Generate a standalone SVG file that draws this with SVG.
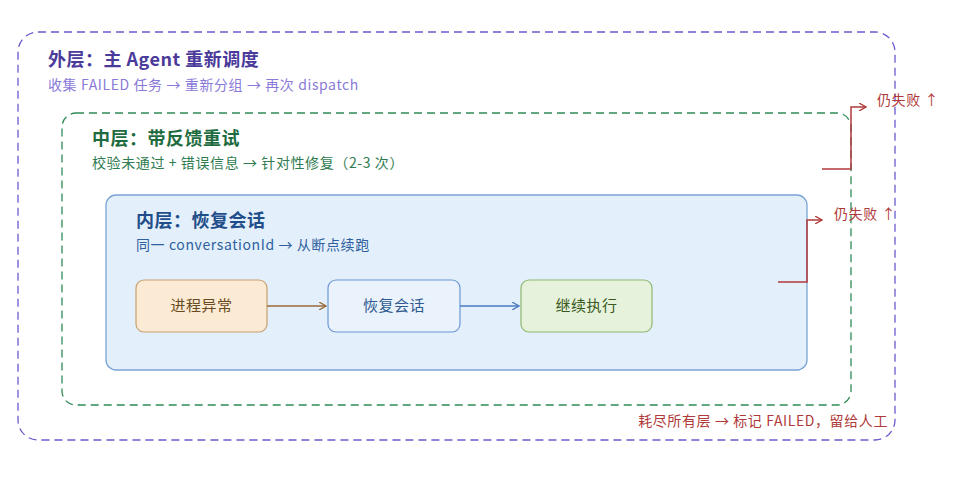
<svg xmlns="http://www.w3.org/2000/svg" width="960" height="481" viewBox="0 0 960 481">
<style>
text{font-family:"Noto Sans CJK SC","Noto Sans",sans-serif}
.t{font-size:18px;font-weight:bold;letter-spacing:0.5px}
.s{font-size:14px;letter-spacing:0.6px}
.n{font-size:15px;text-anchor:middle;letter-spacing:0.5px}
.r{fill:#b03a3a;font-size:14px;letter-spacing:0.6px}
.rl{fill:none;stroke:#b03a3a;stroke-width:1.5}
</style>
<defs>
<marker id="ar" markerWidth="8" markerHeight="8" refX="7" refY="4" orient="auto" markerUnits="userSpaceOnUse"><path d="M0,0 L7,4 L0,8" fill="none" stroke="#b03a3a" stroke-width="1.3"/></marker>
<marker id="ab" markerWidth="8" markerHeight="8" refX="7" refY="4" orient="auto" markerUnits="userSpaceOnUse"><path d="M0,0 L7,4 L0,8" fill="none" stroke="#9a6a3a" stroke-width="1.3"/></marker>
<marker id="abl" markerWidth="8" markerHeight="8" refX="7" refY="4" orient="auto" markerUnits="userSpaceOnUse"><path d="M0,0 L7,4 L0,8" fill="none" stroke="#4a7ac0" stroke-width="1.3"/></marker>
</defs>
<rect width="960" height="481" fill="#fff"/>
<g id="outer">
<rect x="18" y="32" width="877" height="408" rx="20" fill="none" stroke="#6a5acd" stroke-width="1.3" stroke-dasharray="8,5"/>
<text x="48" y="66" class="t" fill="#4a3a9a">外层：主 Agent 重新调度</text>
<text x="48" y="90" class="s" fill="#8a7ad8">收集 FAILED 任务 → 重新分组 → 再次 dispatch</text>
<text x="888" y="426" class="r" text-anchor="end">耗尽所有层 → 标记 FAILED，留给人工</text>
</g>
<g id="middle">
<rect x="62" y="113" width="789" height="292" rx="14" fill="none" stroke="#2e8b57" stroke-width="1.3" stroke-dasharray="8,5"/>
<text x="92" y="145" class="t" fill="#1e6b40">中层：带反馈重试</text>
<text x="92" y="168" class="s" fill="#2e7b50">校验未通过 + 错误信息 → 针对性修复（2-3 次）</text>
</g>
<g id="inner">
<rect x="106" y="195" width="701" height="175" rx="10" fill="#e3effa" stroke="#7aa3d6" stroke-width="1.3"/>
<text x="136" y="227" class="t" fill="#1f4e8a">内层：恢复会话</text>
<text x="136" y="250" class="s" fill="#2f5fa0">同一 conversationId → 从断点续跑</text>
</g>
<g id="n1"><rect x="136" y="280" width="131" height="52" rx="8" fill="#fbebd4" stroke="#c9a070" stroke-width="1.2"/><text x="201.5" y="311" class="n" fill="#6a4a20">进程异常</text></g>
<g id="n2"><rect x="328" y="280" width="132" height="52" rx="8" fill="#eaf3fc" stroke="#6a98d6" stroke-width="1.2"/><text x="394" y="311" class="n" fill="#2f5a90">恢复会话</text></g>
<g id="n3"><rect x="521" y="280" width="131" height="52" rx="8" fill="#e6f2dc" stroke="#8fb870" stroke-width="1.2"/><text x="586.5" y="311" class="n" fill="#3a5a20">继续执行</text></g>
<g id="connectors">
<line x1="267" y1="306" x2="326" y2="306" stroke="#9a6a3a" stroke-width="1.3" marker-end="url(#ab)"/>
<line x1="460" y1="306" x2="519" y2="306" stroke="#4a7ac0" stroke-width="1.3" marker-end="url(#abl)"/>
<path class="rl" d="M778,282 H807 V220 H822" marker-end="url(#ar)"/>
<path class="rl" d="M822,169 H851 V107 H866" marker-end="url(#ar)"/>
<text x="834" y="219" class="r">仍失败 ↑</text>
<text x="877" y="105" class="r">仍失败 ↑</text>
</g>
</svg>
